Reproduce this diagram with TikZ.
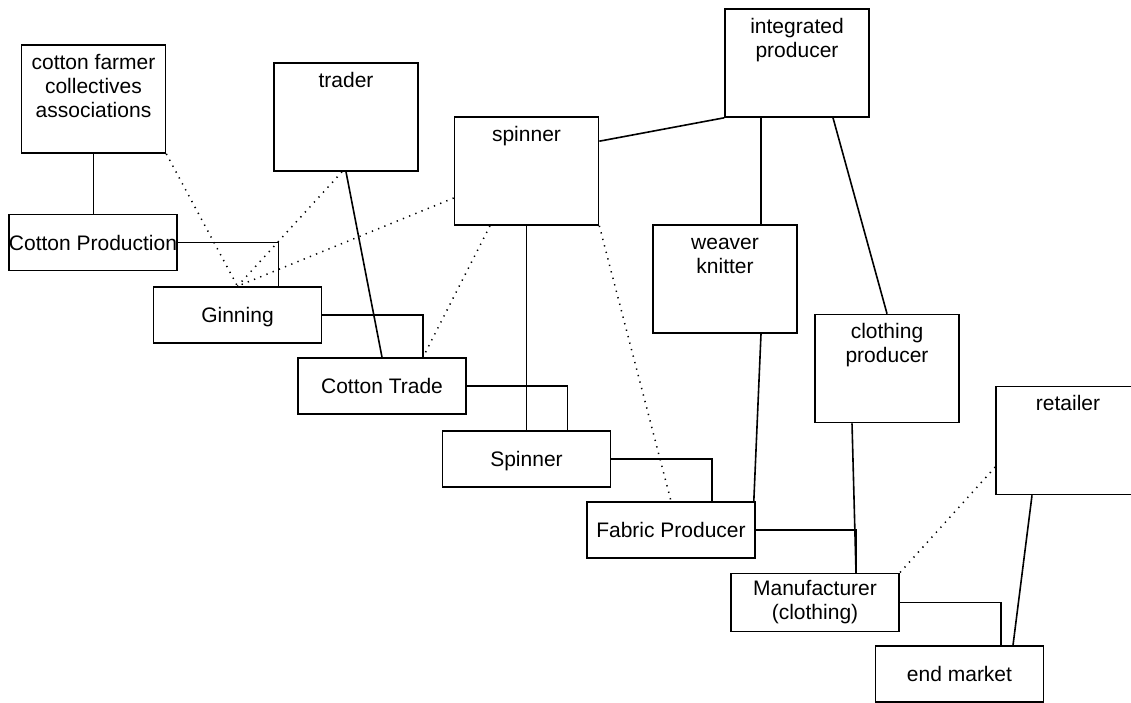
\documentclass[tikz,border=0pt]{standalone}
\usepackage{fontspec}
\setmainfont{Liberation Sans}
\begin{document}
\begin{tikzpicture}[x=1pt,y=-1pt,
  font=\fontsize{21}{24}\selectfont,
  line width=1.6pt,
  bigbox/.style={draw, minimum width=144pt, minimum height=108pt, inner sep=0pt},
  stage/.style={draw, minimum width=168pt, minimum height=56pt, inner sep=0pt, text height=15pt, text depth=0pt},
  stagetwo/.style={draw, minimum width=168pt, minimum height=58pt, inner sep=0pt, align=center},
  lbl/.style={anchor=north, inner sep=0pt, align=center},
  link/.style={line width=1.6pt},
  dotlink/.style={line width=1.5pt, dash pattern=on 1.3pt off 5.4pt}]
\useasboundingbox (0,0) rectangle (1131,702);
\fill[white] (0,0) rectangle (1131,702);
\clip (0,0) rectangle (1131,702);

% actor boxes
\node[bigbox] (farmer) at (93.5,99) {};
\node[lbl] (tfarmer) at ([yshift=-7.2pt]farmer.north) {\strut cotton farmer\\collectives\\associations};
\node[bigbox] (trader) at (346,117) {};
\node[lbl] (ttrader) at ([yshift=-7.2pt]trader.north) {\strut trader};
\node[bigbox] (spinnerT) at (526.5,171) {};
\node[lbl] (tspinner) at ([yshift=-7.2pt]spinnerT.north) {\strut spinner};
\node[bigbox] (integrated) at (797,63) {};
\node[lbl] (tintegrated) at ([yshift=-7.2pt]integrated.north) {\strut integrated\\producer};
\node[bigbox] (weaver) at (725,279) {};
\node[lbl] (tweaver) at ([yshift=-7.2pt]weaver.north) {\strut weaver\\knitter};
\node[bigbox] (clothing) at (887,368.5) {};
\node[lbl] (tclothing) at ([yshift=-7.2pt]clothing.north) {\strut clothing\\producer};
\node[bigbox] (retailer) at (1068,440.5) {};
\node[lbl] (tretailer) at ([yshift=-7.2pt]retailer.north) {\strut retailer};

% stage boxes
\node[stage] (cprod) at (93,242.5) {Cotton Production};
\node[stage] (ginning) at (237.5,315) {Ginning};
\node[stage] (ctrade) at (382,386) {Cotton Trade};
\node[stage] (spinner) at (526.5,459) {Spinner};
\node[stage] (fabric) at (671,530) {Fabric Producer};
\node[stagetwo] (manu) at (815,602.5) {Manufacturer\\(clothing)};
\node[stage] (endm) at (959.5,674) {end market};

% chain connectors
\draw[link] (farmer.south) -- (farmer.south |- cprod.north);
\draw[link] (cprod.east) -| ([xshift=41pt]ginning.north);
\draw[link] (ginning.east) -| ([xshift=41pt]ctrade.north);
\draw[link] (ctrade.east) -| ([xshift=41pt]spinner.north);
\draw[link] (spinner.east) -| ([xshift=41pt]fabric.north);
\draw[link] (fabric.east) -| ([xshift=41pt]manu.north);
\draw[link] (manu.east) -| ([xshift=41.5pt]endm.north);

% actor connectors
\draw[link] (trader.south) -- (ctrade.north);
\draw[link] (spinnerT.south) -- (spinner.north);
\draw[link] ([yshift=-25pt]spinnerT.north east) -- (integrated.south west);
\draw[link] ([xshift=-36pt]integrated.south) -- ([xshift=36pt]weaver.north);
\draw[link] ([xshift=36pt]integrated.south) -- (clothing.north);
\draw[link] ([xshift=36pt]weaver.south) -- ([xshift=-2pt]fabric.north east);
\draw[link] ([xshift=-35pt]clothing.south) -- ([xshift=41pt]manu.north);
\draw[link] ([xshift=-36pt]retailer.south) -- ([xshift=53.5pt]endm.north);

% dotted relations
\draw[dotlink] (farmer.south east) -- (ginning.north);
\draw[dotlink] ([xshift=-4pt]trader.south) -- (ginning.north);
\draw[dotlink] ([yshift=-27pt]spinnerT.west) -- (ginning.north);
\draw[dotlink] ([xshift=-36.5pt]spinnerT.south) -- ([xshift=41pt]ctrade.north);
\draw[dotlink] (spinnerT.south east) -- (fabric.north);
\draw[dotlink] ([yshift=-26.5pt]retailer.west) -- (manu.north east);
\end{tikzpicture}
\end{document}
